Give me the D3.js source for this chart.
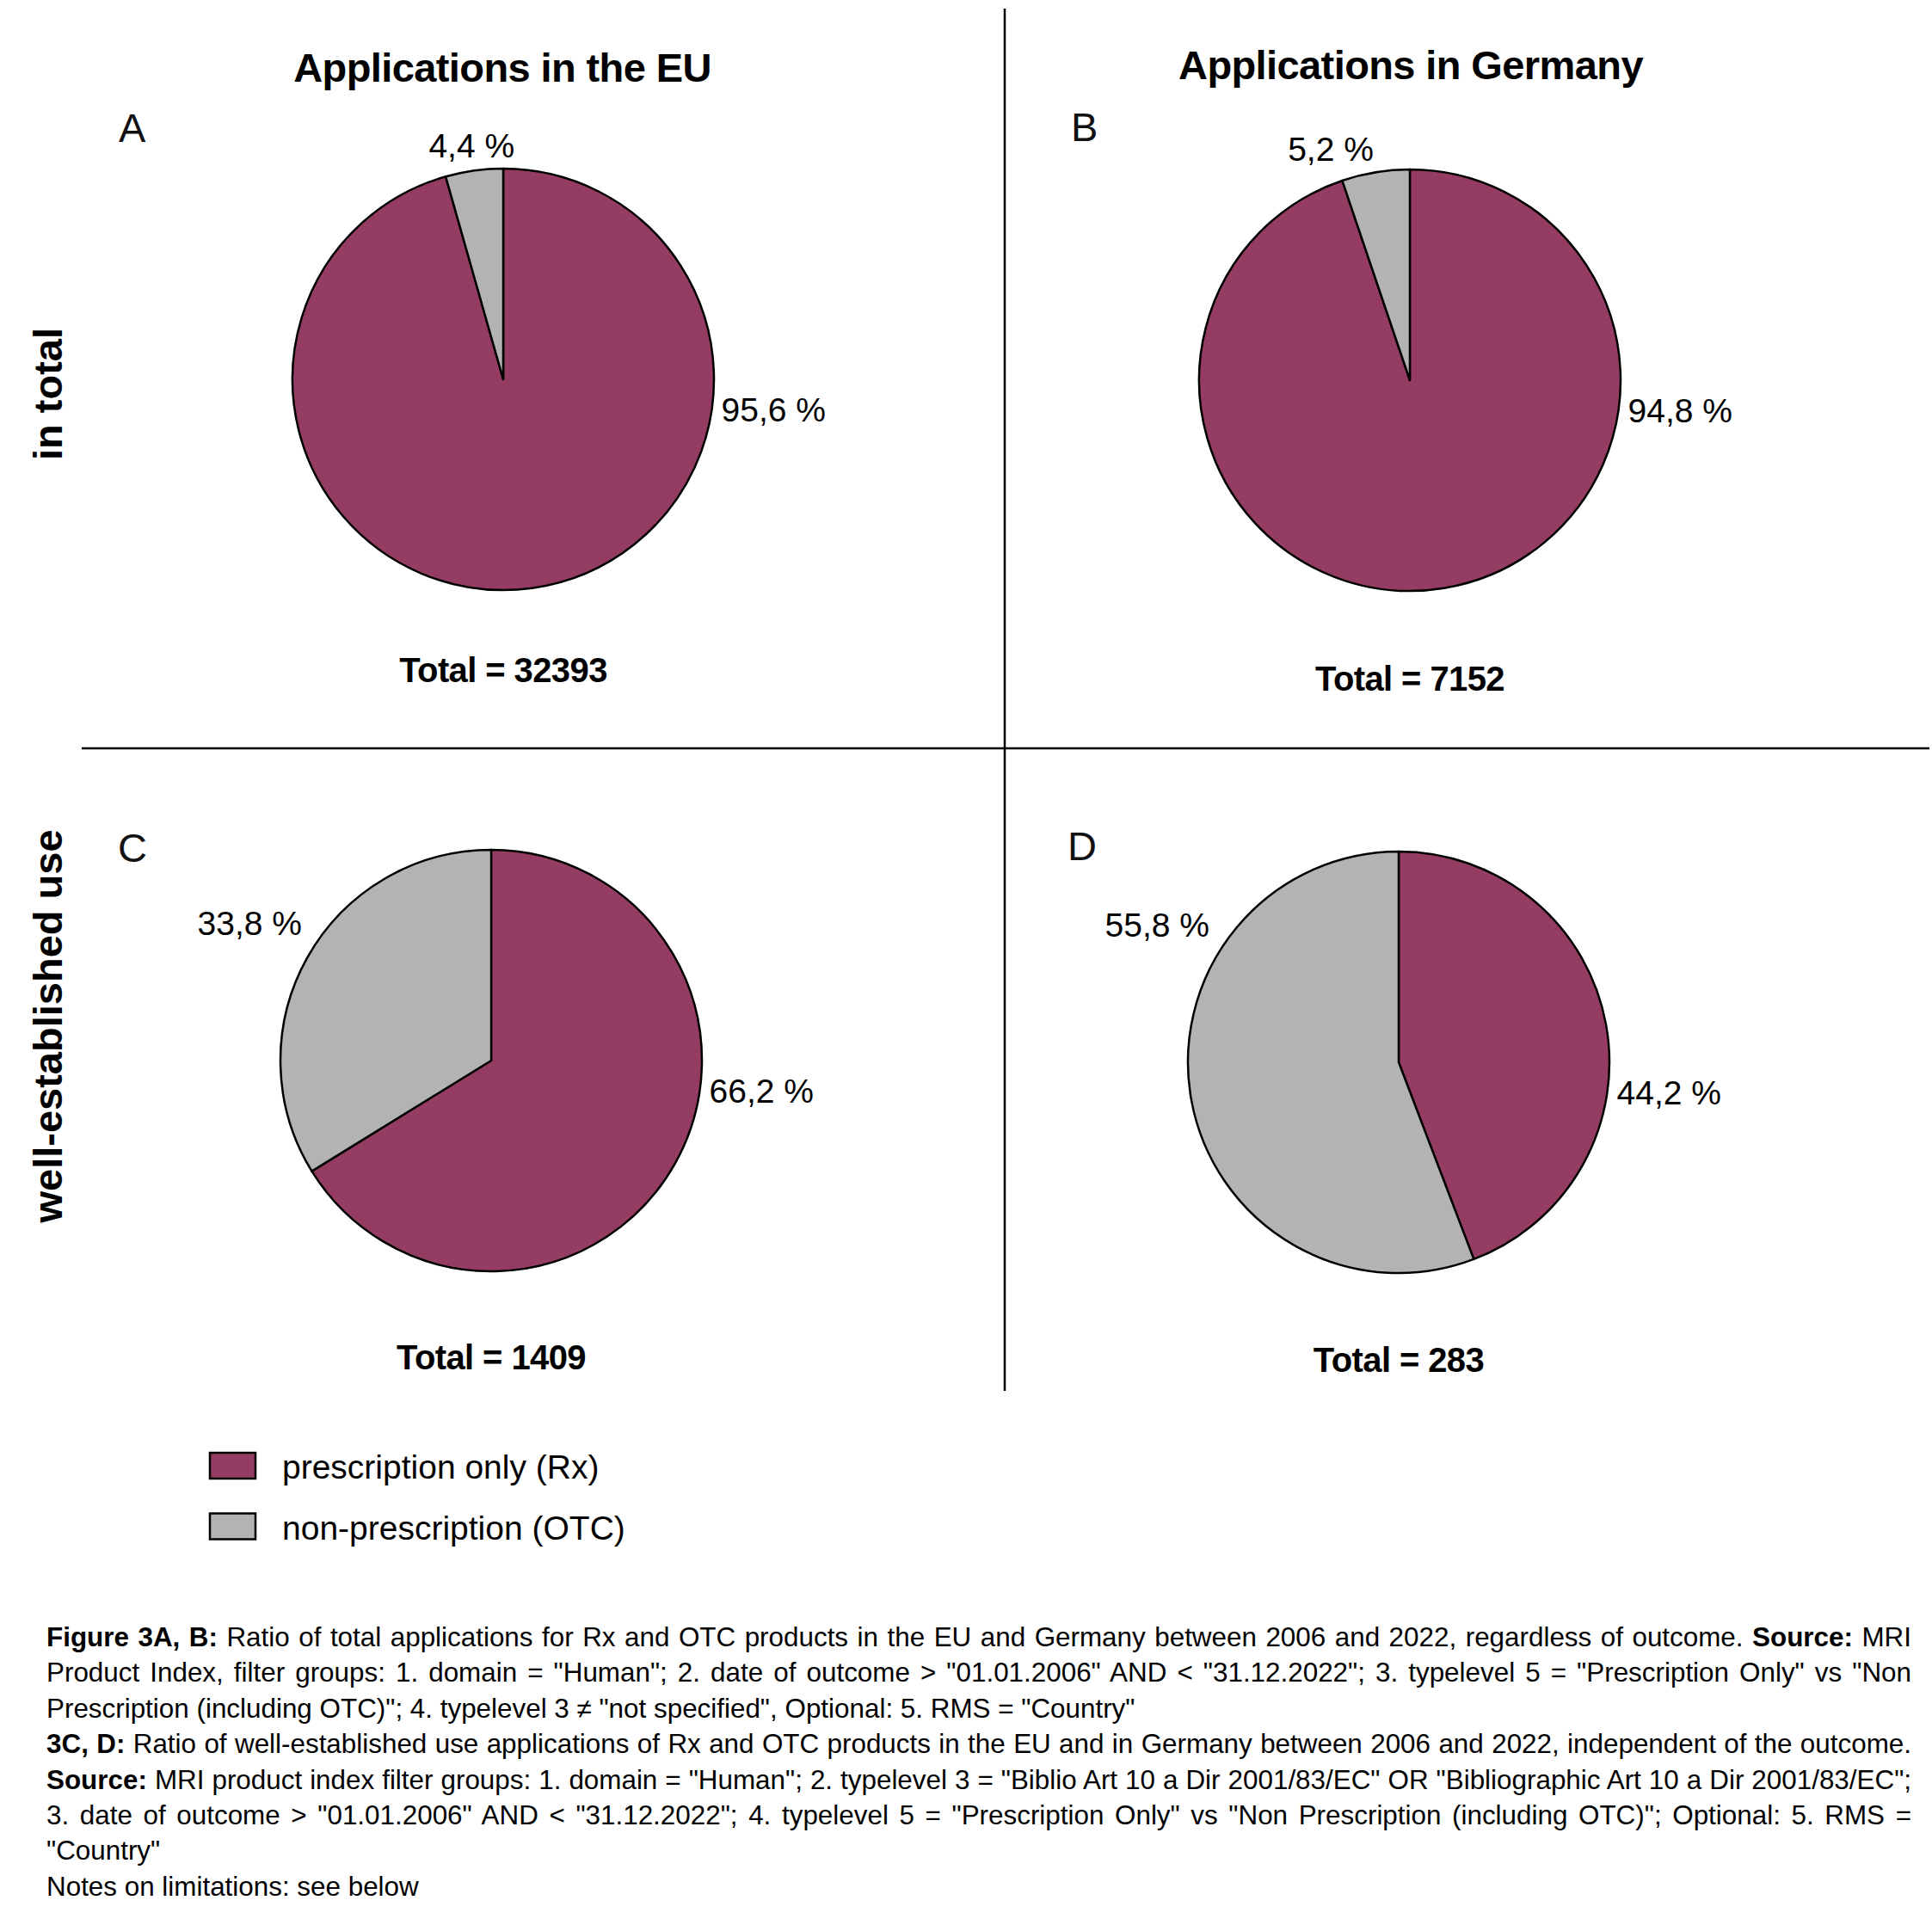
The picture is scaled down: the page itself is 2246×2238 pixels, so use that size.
<!DOCTYPE html>
<html>
<head>
<meta charset="utf-8">
<script src="https://cdn.jsdelivr.net/npm/d3@7"></script>
<style>
  body { margin: 0; background: #fff; }
  svg { display: block; }
</style>
</head>
<body>
<div id="chart"></div>
<script>
// data
const categories = ["prescription only (Rx)", "non-prescription (OTC)"];
const panelLetters = ["A", "B", "C", "D"];
const rxShare = [95.6, 94.8, 66.2, 44.2];
const otcShare = [4.4, 5.2, 33.8, 55.8];
const totals = [32393, 7152, 1409, 283];
const columnTitles = ["Applications in the EU", "Applications in Germany"];
const rowTitles = ["in total", "well-established use"];

const captionLines = [
    [["Figure 3A, B:", true], [" Ratio of total applications for Rx and OTC products in the EU and Germany between 2006 and 2022, regardless of outcome. ", false], ["Source:", true], [" MRI", false]],
    [["Product Index, filter groups: 1. domain = \"Human\"; 2. date of outcome > \"01.01.2006\" AND < \"31.12.2022\"; 3. typelevel 5 = \"Prescription Only\" vs \"Non", false]],
    [["Prescription (including OTC)\"; 4. typelevel 3 \u2260 \"not specified\", Optional: 5. RMS = \"Country\"", false]],
    [["3C, D:", true], [" Ratio of well-established use applications of Rx and OTC products in the EU and in Germany between 2006 and 2022, independent of the outcome.", false]],
    [["Source:", true], [" MRI product index filter groups: 1. domain = \"Human\"; 2. typelevel 3 = \"Biblio Art 10 a Dir 2001/83/EC\" OR \"Bibliographic Art 10 a Dir 2001/83/EC\";", false]],
    [["3. date of outcome > \"01.01.2006\" AND < \"31.12.2022\"; 4. typelevel 5 = \"Prescription Only\" vs \"Non Prescription (including OTC)\"; Optional: 5. RMS =", false]],
    [["\"Country\"", false]],
    [["Notes on limitations: see below", false]]
];
const justified = [true, true, false, true, true, true, false, false];

const width = 2246;
const height = 2238;
const font = "'Liberation Sans', Arial, Helvetica, sans-serif";
const colors = d3.scaleOrdinal().domain(categories).range(["#943c61", "#b3b3b3"]);

// layout of the four panels
const radius = 245;
const centers = [[585, 441], [1639, 442], [571, 1233], [1626, 1235]];
const letterPos = [[138, 165], [1245, 164], [137, 1002], [1241, 1000]];
const totalDy = [352, 361, 359, 360];
const rxLabel = {ang: 98, rad: 256};
const otcLabel = [
    {ang: -7.7, rad: 274, anchor: "middle"},
    {ang: -18.9, rad: 284, anchor: "middle"},
    {ang: -54, rad: 272, anchor: "end"},
    {ang: -54, rad: 272, anchor: "end"}
];

const svg = d3.select("#chart")
    .append("svg")
    .attr("width", width)
    .attr("height", height)
    .attr("font-family", font);

// divider lines
svg.append("line")
    .attr("x1", 1168).attr("x2", 1168)
    .attr("y1", 10).attr("y2", 1617)
    .attr("stroke", "#000").attr("stroke-width", 2.5);

svg.append("line")
    .attr("x1", 95).attr("x2", 2243)
    .attr("y1", 870).attr("y2", 870)
    .attr("stroke", "#000").attr("stroke-width", 2.5);

// column titles
svg.selectAll(".colTitle")
    .data(columnTitles)
    .join("text")
    .attr("class", "colTitle")
    .attr("x", (d, i) => [584, 1640][i])
    .attr("y", (d, i) => [95, 92][i])
    .attr("text-anchor", "middle")
    .attr("font-size", 47)
    .attr("font-weight", "bold")
    .attr("letter-spacing", -0.6)
    .text(d => d);

// row titles
svg.selectAll(".rowTitle")
    .data(rowTitles)
    .join("text")
    .attr("class", "rowTitle")
    .attr("transform", (d, i) => `translate(72,${[458, 1193][i]}) rotate(-90)`)
    .attr("text-anchor", "middle")
    .attr("font-size", 47)
    .attr("font-weight", "bold")
    .text(d => d);

const pie = d3.pie().sort(null).value(d => d.value);
const arc = d3.arc().innerRadius(0).outerRadius(radius);
const fmt = v => d3.format(".1f")(v).replace(".", ",") + " %";
const rad = a => a * Math.PI / 180;

panelLetters.forEach(function(letter, i) {
    const [cx, cy] = centers[i];
    const slices = [
        {key: categories[0], value: rxShare[i]},
        {key: categories[1], value: otcShare[i]}
    ];

    const g = svg.append("g")
        .attr("transform", `translate(${cx},${cy})`);

    g.selectAll("path")
        .data(pie(slices))
        .join("path")
        .attr("d", arc)
        .attr("fill", d => colors(d.data.key))
        .attr("stroke", "#000")
        .attr("stroke-width", 2.5)
        .attr("stroke-linejoin", "round");

    const pRx = d3.pointRadial(rad(rxLabel.ang), rxLabel.rad);
    g.append("text")
        .attr("x", pRx[0])
        .attr("y", pRx[1])
        .attr("dy", "0.35em")
        .attr("text-anchor", "start")
        .attr("font-size", 39)
        .text(fmt(rxShare[i]));

    const o = otcLabel[i];
    const pOtc = d3.pointRadial(rad(o.ang), o.rad);
    g.append("text")
        .attr("x", pOtc[0])
        .attr("y", pOtc[1])
        .attr("dy", "0.35em")
        .attr("text-anchor", o.anchor)
        .attr("font-size", 39)
        .text(fmt(otcShare[i]));

    g.append("text")
        .attr("x", 0)
        .attr("y", totalDy[i])
        .attr("text-anchor", "middle")
        .attr("font-size", 40)
        .attr("font-weight", "bold")
        .attr("letter-spacing", -0.6)
        .text("Total = " + totals[i]);

    svg.append("text")
        .attr("x", letterPos[i][0])
        .attr("y", letterPos[i][1])
        .attr("font-size", 47)
        .attr("fill", "#111")
        .text(letter);
});

// legend
const legend = svg.selectAll(".legend")
    .data(categories)
    .join("g")
    .attr("class", "legend")
    .attr("transform", (d, i) => `translate(244,${1689 + i * 70.5})`);

legend.append("rect")
    .attr("width", 53)
    .attr("height", 30)
    .attr("fill", d => colors(d))
    .attr("stroke", "#000")
    .attr("stroke-width", 2.5);

legend.append("text")
    .attr("x", 84)
    .attr("y", 30)
    .attr("font-size", 39)
    .text(d => d);

// caption, justified like the source
const capX = 54, capW = 2168, capY = 1914, capLine = 41.4;
captionLines.forEach(function(segs, i) {
    const t = svg.append("text")
        .attr("x", capX)
        .attr("y", capY + i * capLine)
        .attr("font-size", 31.4)
        .attr("fill", "#000");

    segs.forEach(function(s) {
        t.append("tspan")
            .attr("font-weight", s[1] ? "bold" : "normal")
            .text(s[0]);
    });

    if (justified[i]) {
        const full = segs.map(s => s[0]).join("");
        const spaces = (full.match(/ /g) || []).length;
        const natural = t.node().getComputedTextLength();
        if (spaces > 0) {
            t.attr("word-spacing", (capW - natural) / spaces);
        }
    }
});
</script>
</body>
</html>
